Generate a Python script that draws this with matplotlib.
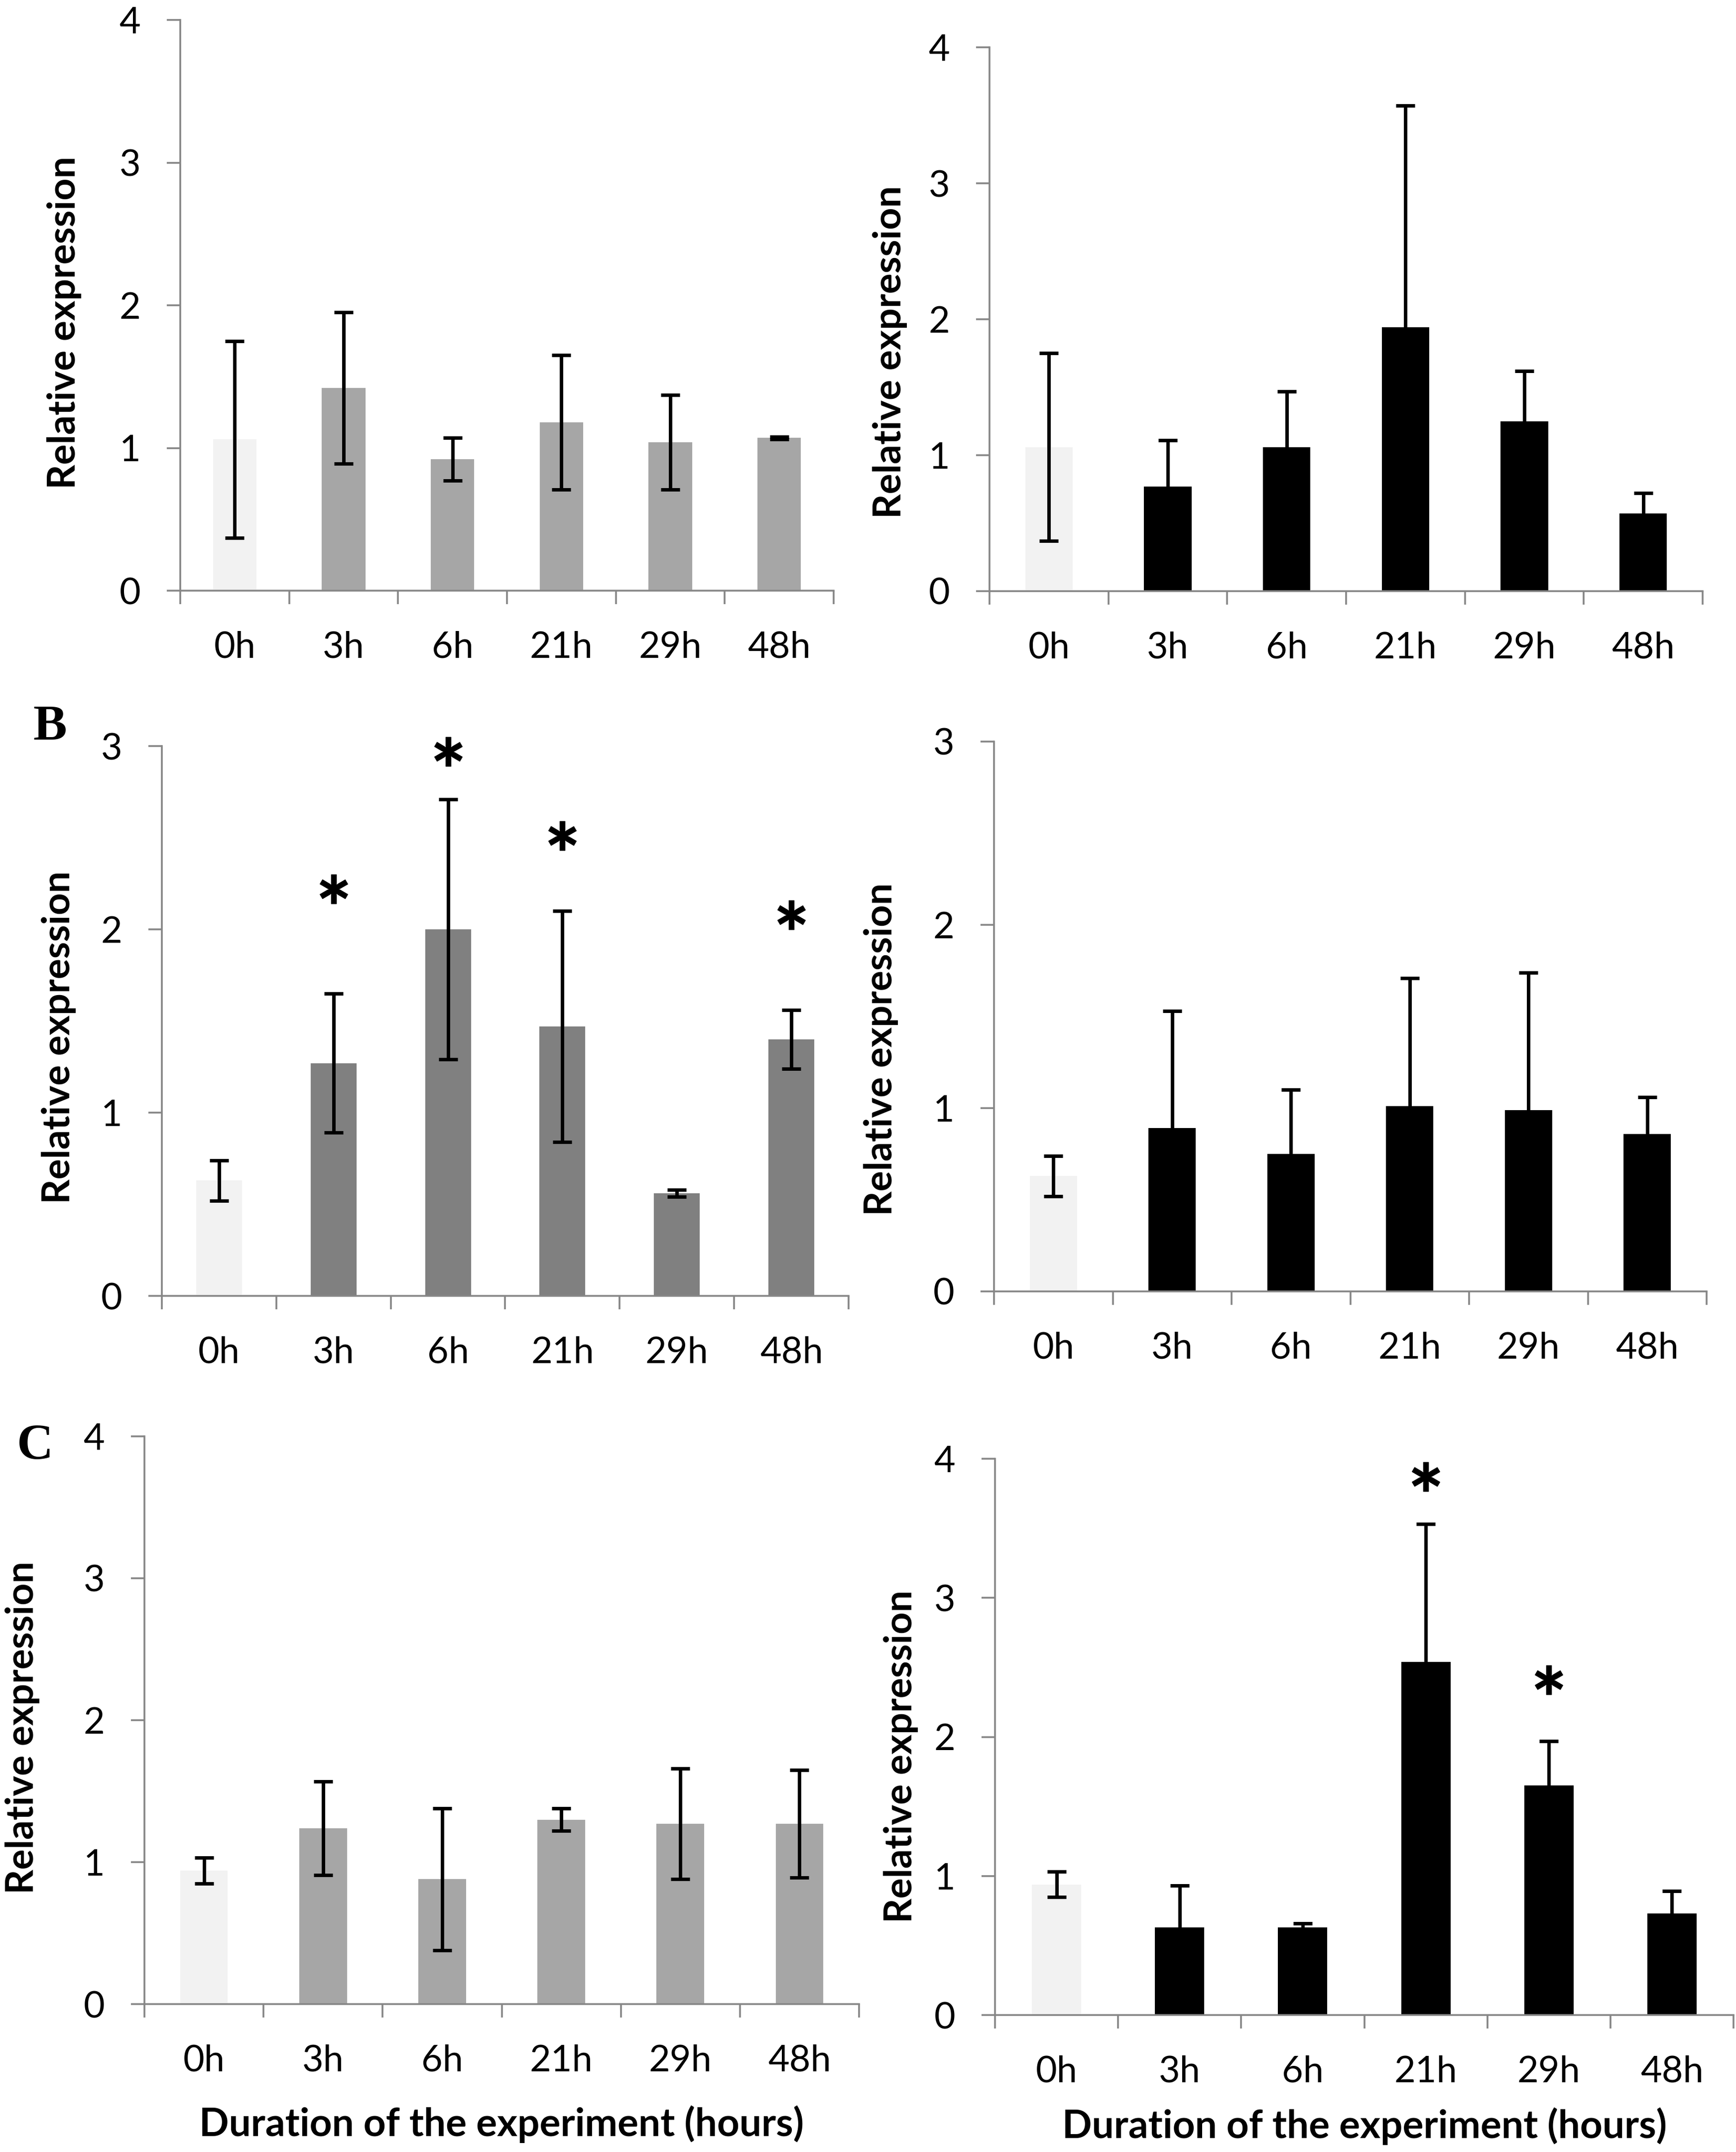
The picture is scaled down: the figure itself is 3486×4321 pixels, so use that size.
import numpy as np
import matplotlib
matplotlib.use('Agg')
import matplotlib.pyplot as plt
from matplotlib.path import Path
from matplotlib.textpath import TextPath
from matplotlib.font_manager import FontProperties

plt.rcParams['font.family'] = ['Lato', 'DejaVu Sans']

# ---- data ----
hours = ['0h', '3h', '6h', '21h', '29h', '48h']

a_left_mean = [1.06, 1.42, 0.92, 1.18, 1.04, 1.07]
a_left_err = [0.69, 0.53, 0.15, 0.47, 0.33, 0.01]
a_right_mean = [1.06, 0.77, 1.06, 1.94, 1.25, 0.57]
a_right_err = [0.69, 0.34, 0.41, 1.63, 0.37, 0.15]

b_left_mean = [0.63, 1.27, 2.00, 1.47, 0.56, 1.40]
b_left_err = [0.11, 0.38, 0.71, 0.63, 0.02, 0.16]
b_left_star = [np.nan, 2.22, 2.97, 2.51, np.nan, 2.08]
b_right_mean = [0.63, 0.89, 0.75, 1.01, 0.99, 0.86]
b_right_err = [0.11, 0.64, 0.35, 0.70, 0.75, 0.20]

c_left_mean = [0.94, 1.24, 0.88, 1.30, 1.27, 1.27]
c_left_err = [0.09, 0.33, 0.50, 0.08, 0.39, 0.38]
c_right_mean = [0.94, 0.63, 0.63, 2.54, 1.65, 0.73]
c_right_err = [0.09, 0.30, 0.03, 0.99, 0.32, 0.16]
c_right_star = [np.nan, np.nan, np.nan, 3.87, 2.41, np.nan]

# ---- look ----
W, H, DPI = 3486, 4321, 100
PX = 72 / DPI            # points per pixel
AXIS_GREY = '#868686'
CTRL = '#f2f2f2'

fig = plt.figure(figsize=(W / DPI, H / DPI), dpi=DPI)

# bold asterisk as a marker, centred on its ink
tp = TextPath((0, 0), '*', prop=FontProperties(family='Lato', weight='bold'), size=1)
verts = tp.vertices.copy()
codes = tp.codes.copy()
start = verts[0]
for i, c in enumerate(codes):
    if c == Path.MOVETO:
        start = verts[i].copy()
    elif c == Path.CLOSEPOLY:
        verts[i] = start
ext = Path(verts, codes).get_extents()
verts = verts - [(ext.x0 + ext.x1) / 2, (ext.y0 + ext.y1) / 2]
STAR = Path(verts, codes)


def panel(box, means, errs, ymax, colour, stars=None, ylab_xy=None):
    # box in pixels: y axis x, right end, y of zero, y of top tick
    x0, x1, y0, yt = box
    ax = fig.add_axes([x0 / W, 1 - y0 / H, (x1 - x0) / W, (y0 - yt) / H])
    x = np.arange(len(hours))
    ax.bar(x, means, width=0.4, color=[CTRL] + [colour] * 5, zorder=2)
    ax.errorbar(x, means, yerr=errs, fmt='none', ecolor='black',
                elinewidth=5, capsize=14, capthick=5, zorder=3)
    if stars is not None:
        ax.plot(x, stars, ls='none', marker=STAR, ms=42, color='black',
                zorder=4, clip_on=False)
    ax.set_xlim(-0.5, 5.5)
    ax.set_ylim(0, ymax)
    ax.set_yticks(range(ymax + 1))
    ax.set_xticks(np.arange(-0.5, 6, 1))
    ax.set_xticklabels([])
    ax.set_xticks(x, minor=True)
    ax.set_xticklabels(hours, minor=True)
    for s in ['top', 'right']:
        ax.spines[s].set_visible(False)
    for s in ['left', 'bottom']:
        ax.spines[s].set_color(AXIS_GREY)
        ax.spines[s].set_linewidth(2.6)
    ax.tick_params(axis='both', which='major', direction='out', length=27 * PX,
                   width=2.6, color=AXIS_GREY, labelsize=53)
    ax.tick_params(axis='y', pad=38)
    ax.tick_params(axis='x', which='minor', length=0, pad=58, labelsize=53)
    ax.set_facecolor('none')
    if ylab_xy is not None:
        t = fig.text(ylab_xy[0] / W, 1 - ylab_xy[1] / H, 'Relative expression',
                     rotation=90, ha='center', va='center', fontweight='bold',
                     fontsize=50)
        ylabels.append(t)
    return ax


ylabels = []
panel((362, 1674, 1186, 40), a_left_mean, a_left_err, 4, '#a6a6a6',
      ylab_xy=(129, 1186 - 0.47 * 1146))
panel((1987, 3419, 1187, 95), a_right_mean, a_right_err, 4, 'black',
      ylab_xy=(1787, 1187 - 0.44 * 1092))
panel((325, 1704, 2602, 1498), b_left_mean, b_left_err, 3, '#808080',
      stars=b_left_star, ylab_xy=(118, 2602 - 0.47 * 1104))
panel((1996, 3427, 2593, 1489), b_right_mean, b_right_err, 3, 'black',
      ylab_xy=(1769, 2593 - 0.44 * 1104))
panel((290, 1725, 4024, 2884), c_left_mean, c_left_err, 4, '#a6a6a6',
      ylab_xy=(45, 4024 - 0.487 * 1140))
panel((1998, 3481, 4046, 2929), c_right_mean, c_right_err, 4, 'black',
      stars=c_right_star, ylab_xy=(1809, 4046 - 0.465 * 1117))

xlabels = []
for xc, yc in [(1007, 4265), (2740, 4269)]:
    xlabels.append(fig.text(xc / W, 1 - yc / H, 'Duration of the experiment (hours)',
                            ha='center', va='center', fontweight='bold', fontsize=50))

# panel letters
fig.text(66 / W, 1 - 1486 / H, 'B', family='Liberation Serif', fontweight='bold',
         fontsize=73, ha='left', va='baseline')
fig.text(34 / W, 1 - 2930 / H, 'C', family='Liberation Serif', fontweight='bold',
         fontsize=73, ha='left', va='baseline')

# size the axis titles to the lengths seen in the figure
fig.canvas.draw()
r = fig.canvas.get_renderer()
for t in ylabels:
    t.set_fontsize(50 * 670 / t.get_window_extent(r).height)
for t in xlabels:
    t.set_fontsize(50 * 1218 / t.get_window_extent(r).width)

fig.savefig('out.png', dpi=DPI)
